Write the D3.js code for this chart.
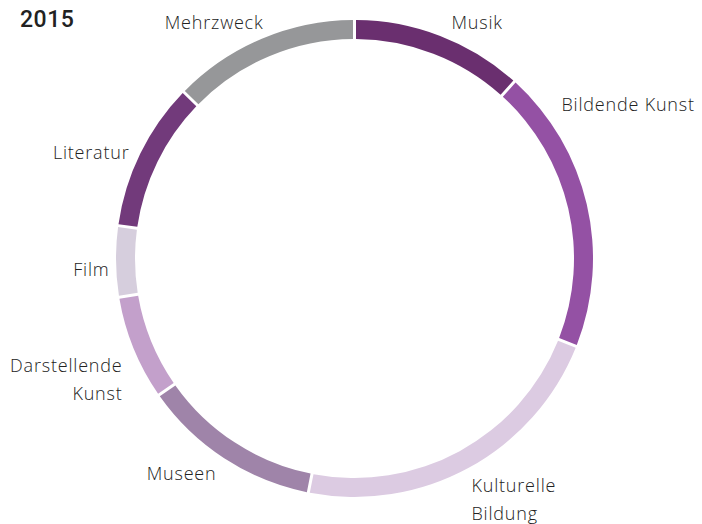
<!DOCTYPE html>
<html>
<head>
<meta charset="utf-8">
<script src="https://cdn.jsdelivr.net/npm/d3@7"></script>
<style>
  html, body { margin: 0; padding: 0; background: #fff; }
  svg { display: block; }
  .label { font-family: "Open Sans", Roboto, sans-serif; font-weight: 300; font-size: 18px; letter-spacing: 0.8px; fill: #222; }
  .title { font-family: Roboto, "Open Sans", sans-serif; font-weight: 500; font-size: 23px; letter-spacing: 0.5px; fill: #222; }
</style>
</head>
<body>
<svg id="chart" width="702" height="524"></svg>
<script>
// Funding shares by field, 2015 (percent)
const year = "2015";
const categories = ["Musik", "Bildende Kunst", "Kulturelle Bildung", "Museen",
                    "Darstellende Kunst", "Film", "Literatur", "Mehrzweck"];
const shares = [11.7, 19.3, 22.1, 12.2, 7.1, 4.8, 10.1, 12.7];
const colors = ["#6a2f6f", "#9451a4", "#dccbe2", "#9f84a9",
                "#c3a0cb", "#d6cedd", "#723a7b", "#969799"];

// Label placement (offset from ring centre, text anchor, line breaks)
const labelLayout = [
  { dx: 97,   dy: -230, anchor: "start", lines: ["Musik"] },
  { dx: 207,  dy: -148, anchor: "start", lines: ["Bildende Kunst"] },
  { dx: 117,  dy: 233,  anchor: "start", lines: ["Kulturelle", "Bildung"] },
  { dx: -138, dy: 221,  anchor: "end",   lines: ["Museen"] },
  { dx: -232, dy: 113,  anchor: "end",   lines: ["Darstellende", "Kunst"] },
  { dx: -245, dy: 17,   anchor: "end",   lines: ["Film"] },
  { dx: -225, dy: -100, anchor: "end",   lines: ["Literatur"] },
  { dx: -91,  dy: -230, anchor: "end",   lines: ["Mehrzweck"] }
];

const svg = d3.select("#chart");
const cx = 354.5, cy = 258.5;
const outerR = 238.5, innerR = 219.5;

const data = categories.map((c, i) => ({ name: c, value: shares[i], color: colors[i] }));

const pie = d3.pie().value(d => d.value).sort(null);
const arc = d3.arc()
  .innerRadius(innerR)
  .outerRadius(outerR)
  .padAngle(3 / 229)
  .padRadius(229);

const g = svg.append("g").attr("transform", `translate(${cx},${cy})`);

g.selectAll("path.slice")
  .data(pie(data))
  .join("path")
  .attr("class", "slice")
  .attr("d", arc)
  .attr("fill", d => d.data.color);

// Category labels
const lineH = 28;
labelLayout.forEach((l, i) => {
  const t = g.append("text")
    .attr("class", "label")
    .attr("text-anchor", l.anchor)
    .attr("x", l.dx)
    .attr("y", l.dy);
  l.lines.forEach((line, j) => {
    t.append("tspan").attr("x", l.dx).attr("dy", j === 0 ? 0 : lineH).text(line);
  });
});

svg.append("text")
  .attr("class", "title")
  .attr("x", 20)
  .attr("y", 27)
  .text(year);
</script>
</body>
</html>
